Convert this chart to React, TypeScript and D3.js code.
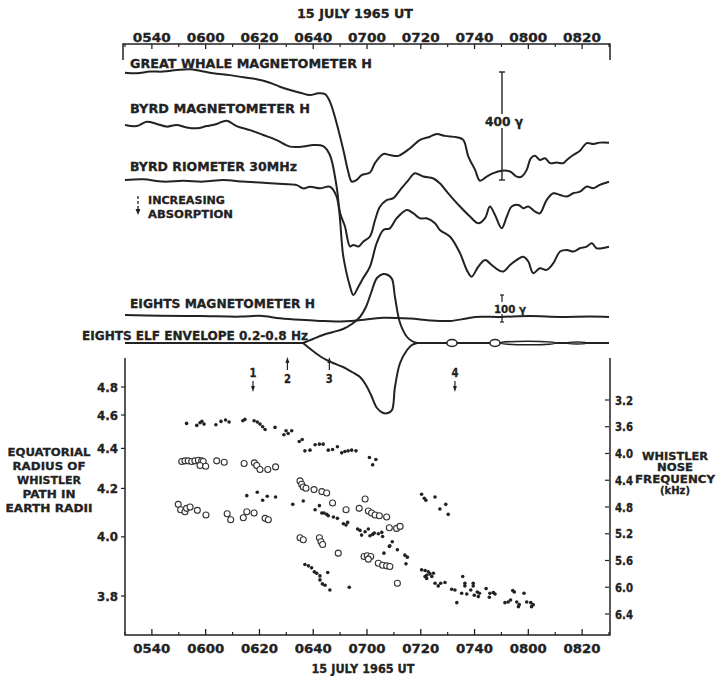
import React from 'react';
import * as d3 from 'd3';

// times are minutes after 0500 UT, 15 July 1965
const majorTimes = [40, 60, 80, 100, 120, 140, 160, 180, 200];
const minorTimes = [30, 50, 70, 90, 110, 130, 150, 170, 190, 210];

// trace deflections in gamma (down = negative)
const greatWhaleH: [number, number][] = [
  [30, 0], [34.4, -2], [39.3, 4], [44.2, 4], [49.2, 10], [54.2, 13], [57.9, 7], [62.8, -2], [69, -9],
  [74, -17], [79, -24], [83.9, -37], [87.6, -52], [91.4, -64], [95.1, -74], [98.8, -83], [101.9, -76],
  [104.4, -79], [106.2, -107], [108.7, -187], [111.2, -286], [113, -366], [114.3, -403], [116.2, -397],
  [118, -379], [121.1, -370], [123, -334], [126.1, -301], [128.5, -305], [131.6, -308], [136, -280],
  [139.7, -249], [143.4, -237], [145.9, -227], [149, -234], [153.4, -239], [155.8, -249], [157.7, -311],
  [160.2, -360], [162, -400], [164.5, -385], [167, -372], [170.1, -363], [173.2, -366], [175.7, -385],
  [177.5, -385], [179.4, -360], [180.9, -317], [182.5, -308], [184.3, -323], [186.2, -317], [188.1, -335],
  [190.5, -333], [193, -335], [194.3, -323], [196.7, -305], [199.2, -289], [201.7, -261], [204.2, -264],
  [206.6, -259], [210, -259],
];

const byrdH: [number, number][] = [
  [30, 0], [34.4, -4], [38.1, 12], [41.8, 4], [45.5, -6], [49.2, 0], [52.9, -9], [56.7, -12], [60.4, -4],
  [64.1, 4], [67.8, 16], [71.5, -4], [76.5, -19], [81.4, -37], [86.4, -56], [91.4, -80], [96.3, -80],
  [100, -74], [103.7, -78], [106.2, -111], [108.7, -228], [110, -326], [111.8, -376], [113.7, -450],
  [114.9, -444], [116.8, -450], [118.6, -432], [121.1, -413], [123, -352], [124.8, -303], [127.3, -278],
  [129.8, -271], [132.3, -241], [135.4, -204], [137.8, -179], [140.9, -191], [144.7, -198], [147.1, -216],
  [150.2, -253], [154.6, -302], [158.3, -339], [161.4, -364], [163.9, -345], [165.7, -302], [167.6, -333],
  [170.1, -382], [172, -339], [173.8, -302], [176.3, -296], [178.1, -308], [180, -302], [182.5, -321],
  [184.3, -327], [186.8, -278], [189.3, -253], [191.8, -259], [194.3, -265], [196.7, -253], [199.2, -247],
  [201.7, -228], [204.2, -234], [206.6, -222], [210, -210],
];

const byrdRiometer: [number, number][] = [
  [30, 0], [36.8, 3], [44.2, -6], [51.7, -3], [59.1, -6], [66.6, 0], [74, -6], [81.4, -10], [88.9, -15],
  [93.9, -19], [96.3, -31], [98.8, -25], [102.5, -31], [106.2, -25], [108.7, -62], [111.2, -284],
  [113.7, -395], [114.9, -426], [116.8, -395], [118.6, -363], [121.1, -321], [123.6, -234], [126.1, -185],
  [128.5, -179], [131, -142], [134.8, -111], [137.2, -123], [139.7, -142], [142.2, -142], [145.3, -160],
  [147.1, -185], [150.9, -210], [154.6, -271], [157.1, -333], [158.9, -358], [161.4, -321], [163.9, -296],
  [166.4, -315], [168.8, -333], [170.7, -339], [173.2, -315], [175.7, -296], [178.1, -284], [180, -302],
  [181.8, -345], [184.3, -327], [186.8, -333], [189.3, -308], [191.8, -265], [194.3, -259], [196.7, -265],
  [199.2, -253], [201.7, -247], [203.6, -234], [205.4, -253], [207.3, -253], [210, -247],
];

const eightsH: [number, number][] = [
  [30, 0], [43, -3], [57.9, -4], [72.8, -6], [80.2, -3], [87.6, -12], [95.1, -18], [102.5, -22],
  [108.8, -24], [116.3, -20], [125.9, -10], [136, -13], [143.4, -20], [150.9, -22], [156.4, -14],
  [160.2, -7], [169.5, -7], [180.6, -4], [191.8, -7], [202.9, -6], [210, -7],
];

// ELF envelope amplitude (relative units)
const elfTimes = [96.2, 99.9, 103.6, 107.4, 111.1, 114.4, 117.4, 119.6, 121.5, 123.7, 126, 127.8, 129.3, 130.4, 132.3, 134.9, 136.7, 138.6];
const elfUpper = [0, 4, 8, 11, 14, 19, 26, 36, 50, 65, 69, 68, 64, 46, 20, 6, 2, 0];
const elfLower = [0, 8, 15, 20, 24, 29, 34, 42, 52, 65, 70, 70, 67, 44, 20, 7, 2, 0];
const elfBursts = [
  { t0: 149.7, t1: 153.5, amp: 3.5 },
  { t0: 165.7, t1: 169.5, amp: 3.5 },
  { t0: 169.5, t1: 190.3, amp: 1.8 },
  { t0: 194.4, t1: 201.8, amp: 0.9 },
];

const markers = [
  { label: '1', t: 77.6, dir: 'down' },
  { label: '2', t: 90.4, dir: 'up' },
  { label: '3', t: 106, dir: 'up' },
  { label: '4', t: 152.7, dir: 'down' },
];

const radiusTicks = [4.8, 4.6, 4.4, 4.2, 4.0, 3.8];
const freqTicks = [3.2, 3.6, 4.0, 4.4, 4.8, 5.2, 5.6, 6.0, 6.4];

// whistler nose frequencies [minutes after 0500, kHz]
const dotPoints: [number, number][] = [
  [52.9, 3.55], [56.7, 3.58], [57.9, 3.54], [58.6, 3.52], [59.4, 3.56], [63.8, 3.57], [65.7, 3.52], [67.4, 3.5],
  [68.7, 3.53], [73.8, 3.51], [74.6, 3.49], [78, 3.51], [79.2, 3.53], [80.2, 3.56], [81.2, 3.6], [82.1, 3.64],
  [85.8, 3.61], [89.1, 3.72], [90.7, 3.7], [92, 3.66], [89.9, 3.66], [94.8, 3.82], [95.9, 3.79], [96.9, 3.96],
  [98.8, 3.95], [100.7, 3.87], [102.3, 3.86], [103.7, 3.86], [105.6, 3.95], [107.2, 3.94], [109, 3.9],
  [110.6, 3.99], [111.8, 3.97], [113, 3.96], [114.3, 3.95], [115.9, 3.96], [120.9, 4.06], [123.3, 4.09], [122.1, 4.17],
  [75.3, 4.63], [79.2, 4.58], [81.2, 4.7], [82.9, 4.64], [86, 4.65], [92.4, 4.76], [96.3, 4.71],
  [100.7, 4.84], [102.3, 4.78], [103.2, 4.89], [104, 4.89], [105, 4.91], [105.6, 4.93], [107.5, 4.95], [109, 4.97],
  [111.2, 5.05], [112.2, 5.07], [112.8, 5.03], [116.5, 5.13], [117.4, 5.15], [118, 5.22], [119.3, 5.17],
  [120.5, 5.13], [121.1, 5.23], [122.1, 5.21], [122.7, 5.19], [124.2, 5.2], [125.5, 5.18], [125.8, 5.24],
  [128.5, 5.38], [129.4, 5.32], [131.3, 5.44], [126.3, 5.49], [128.3, 5.39], [134.5, 5.65], [134.1, 5.52], [135, 5.55],
  [140.3, 4.61], [141.3, 4.67], [141.9, 4.7], [145.3, 4.65], [147.1, 4.83], [149.3, 4.76], [150.2, 4.91],
  [96.9, 5.66], [98.2, 5.68], [99.4, 5.71], [100.4, 5.77], [101.3, 5.79], [102.5, 5.83], [105.4, 5.78],
  [102.5, 5.89], [103.4, 5.95], [104.4, 5.97], [106.2, 6.04], [113.4, 6.0],
  [140.3, 5.74], [141.6, 5.75], [142.8, 5.77], [143.4, 5.8], [142.2, 5.82], [141.6, 5.84], [142.2, 5.87],
  [144.1, 5.84], [144.7, 5.79], [145.3, 5.94], [146.5, 5.98], [147.4, 5.94], [149, 5.93], [151.5, 6.03],
  [152.7, 6.04], [153.4, 6.23], [155.2, 6.09], [155.6, 5.84], [156.4, 5.94], [156.4, 5.98], [157.1, 6.1],
  [158.6, 6.04], [159.5, 5.94], [159.5, 5.98], [159.9, 6.12], [161, 6.07], [161.4, 6.14], [161.8, 6.09],
  [164.3, 6.02], [165.7, 6.09], [167, 6.08], [167.6, 6.1], [165.5, 6.15], [171.3, 6.23], [172.5, 6.22],
  [173.4, 6.19], [174.2, 6.05], [174.8, 6.07], [175.7, 6.22], [176.6, 6.26], [176.3, 6.29], [178.4, 6.09],
  [179.4, 6.22], [180.9, 6.23], [181.8, 6.26], [181.2, 6.29],
];

const circlePoints: [number, number][] = [
  [51.1, 4.12], [52.3, 4.11], [53.5, 4.11], [54.8, 4.12], [56, 4.11], [57.3, 4.1], [58.5, 4.11], [59.1, 4.12],
  [57.9, 4.18], [60, 4.19], [64.1, 4.11], [66.9, 4.13], [74.3, 4.15], [78.1, 4.14], [79, 4.18], [80.2, 4.24],
  [83.1, 4.24], [86, 4.2],
  [49.8, 4.76], [50.7, 4.84], [52.3, 4.87], [52.9, 4.82], [54.2, 4.8], [56.9, 4.85], [60.1, 4.92], [68, 4.9],
  [69.3, 4.99], [74, 4.96], [75.3, 4.87], [78, 4.89], [82.1, 4.97], [83.3, 4.99],
  [95.1, 4.41], [95.7, 4.46], [96.3, 4.5], [97.3, 4.52], [100.3, 4.54], [103.2, 4.57], [105, 4.59], [107.2, 4.74],
  [112.2, 4.84], [117.1, 4.82], [119.3, 4.68], [120.5, 4.86], [121.7, 4.89], [123, 4.92], [124.6, 4.93],
  [127.3, 4.95], [128.3, 5.11], [131, 5.12], [132.3, 5.09],
  [95.1, 5.26], [96.3, 5.29], [102.3, 5.26], [102.9, 5.32], [103.5, 5.36], [109.3, 5.49], [118.9, 5.54],
  [120.1, 5.53], [121.4, 5.54], [120.5, 5.58], [124.2, 5.64], [125.8, 5.67], [127.3, 5.68], [128.5, 5.69], [131.3, 5.94],
];

const INK = '#222';
const FONT = "'DejaVu Sans', 'Liberation Sans', sans-serif";

const fmtTime = (t: number) => {
  const m = 300 + t;
  return String(Math.floor(m / 60)).padStart(2, '0') + String(m % 60).padStart(2, '0');
};

const Label = ({ x, y, w, size = 12, anchor = 'start', children }: any) => (
  <text x={x} y={y} fontSize={size} fontWeight="bold" fontFamily={FONT} fill={INK}
    stroke={INK} strokeWidth={0.3}
    textAnchor={anchor} textLength={w} lengthAdjust="spacingAndGlyphs">{children}</text>
);

const App: React.FC = () => {
  const width = 717;
  const height = 676;

  const x = d3.scaleLinear().domain([30, 210]).range([125, 609]);
  const gamma = d3.scaleLinear().domain([0, 400]).range([0, 108]);
  const env = d3.scaleLinear().domain([0, 70]).range([0, 70]);
  const yFreq = d3.scaleLinear().domain([3.2, 6.4]).range([400, 614]);
  const yRad = d3.scalePow().exponent(-3).domain([3.8, 4.8]).range([596, 387]);

  const traceLine = (y0: number) =>
    d3.line<[number, number]>()
      .x(d => x(d[0]))
      .y(d => y0 - gamma(d[1]))
      .curve(d3.curveCatmullRom.alpha(0.5));

  const traces = [
    { data: greatWhaleH, y0: 72.7 },
    { data: byrdH, y0: 125 },
    { data: byrdRiometer, y0: 180 },
    { data: eightsH, y0: 315 },
  ];

  const elfBase = 343;
  const envLine = (amps: number[], sign: number) =>
    d3.line<number>()
      .x((_, i) => x(elfTimes[i]))
      .y(a => elfBase + sign * env(a))
      .curve(d3.curveCatmullRom.alpha(0.5))(amps) || '';

  const axisTop = 44;
  const axisBottom = 635;
  const plotTop = 358;
  const barX = x(170.2);

  return (
    <svg width={width} height={height} style={{ position: 'absolute', left: 0, top: 0, background: '#fff' }}>
      {/* top time axis */}
      <Label x={355} y={18} w={116} anchor="middle">15 JULY 1965 UT</Label>
      <path d={`M${x(30) - 2},${axisTop + 16}V${axisTop}H${x(210) + 1}V${axisTop + 16}`} fill="none" stroke={INK} strokeWidth={1.5} />
      {majorTimes.map(t => (
        <g key={'tt' + t}>
          <line x1={x(t)} x2={x(t)} y1={axisTop} y2={axisTop + 5} stroke={INK} strokeWidth={1.3} />
          <Label x={x(t)} y={42} w={38} anchor="middle">{fmtTime(t)}</Label>
        </g>
      ))}
      {minorTimes.map(t => (
        <line key={'tm' + t} x1={x(t)} x2={x(t)} y1={axisTop} y2={axisTop + 3} stroke={INK} strokeWidth={1.2} />
      ))}

      {/* station traces */}
      {traces.map((tr, i) => (
        <path key={'tr' + i} d={traceLine(tr.y0)(tr.data) || ''} fill="none" stroke={INK} strokeWidth={2} strokeLinejoin="round" />
      ))}
      <Label x={130} y={67.5} w={242}>GREAT WHALE MAGNETOMETER H</Label>
      <Label x={130} y={112.5} w={180}>BYRD MAGNETOMETER H</Label>
      <Label x={130} y={170.5} w={167}>BYRD RIOMETER 30MHz</Label>
      <line x1={138} x2={138} y1={196} y2={210} stroke={INK} strokeWidth={1.3} strokeDasharray="3,2" />
      <path d="M135.5,209L138,215L140.5,209Z" fill={INK} />
      <Label x={148} y={204} w={77} size={11}>INCREASING</Label>
      <Label x={148} y={217.5} w={85} size={11}>ABSORPTION</Label>

      {/* 400 gamma scale bar */}
      <line x1={barX} x2={barX} y1={72} y2={72 + gamma(400)} stroke={INK} strokeWidth={1.4} />
      <line x1={barX - 3} x2={barX + 3} y1={72} y2={72} stroke={INK} strokeWidth={1.4} />
      <line x1={barX - 3} x2={barX + 3} y1={72 + gamma(400)} y2={72 + gamma(400)} stroke={INK} strokeWidth={1.4} />
      <rect x={barX - 18} y={114} width={40} height={14} fill="#fff" />
      <Label x={barX + 2} y={126} w={38} anchor="middle">400 γ</Label>

      <Label x={130} y={307.5} w={185}>EIGHTS MAGNETOMETER H</Label>
      {/* 100 gamma scale bar */}
      <line x1={barX} x2={barX} y1={295} y2={295 + gamma(100)} stroke={INK} strokeWidth={1.2} />
      <line x1={barX - 2} x2={barX + 2} y1={295} y2={295} stroke={INK} strokeWidth={1.2} />
      <line x1={barX - 2} x2={barX + 2} y1={295 + gamma(100)} y2={295 + gamma(100)} stroke={INK} strokeWidth={1.2} />
      <rect x={barX - 8} y={302} width={34} height={12} fill="#fff" />
      <Label x={barX + 8} y={313} w={32} size={11} anchor="middle">100 γ</Label>

      {/* ELF envelope */}
      <line x1={x(30)} x2={x(elfTimes[0])} y1={elfBase} y2={elfBase} stroke={INK} strokeWidth={2} />
      <line x1={x(elfTimes[elfTimes.length - 1])} x2={x(210)} y1={elfBase} y2={elfBase} stroke={INK} strokeWidth={2} />
      <path d={envLine(elfUpper, -1)} fill="none" stroke={INK} strokeWidth={2} />
      <path d={envLine(elfLower, 1)} fill="none" stroke={INK} strokeWidth={2} />
      {elfBursts.map((b, i) => (
        <ellipse key={'eb' + i} cx={(x(b.t0) + x(b.t1)) / 2} cy={elfBase} rx={(x(b.t1) - x(b.t0)) / 2} ry={env(b.amp)}
          fill="#fff" stroke={INK} strokeWidth={1.5} />
      ))}
      <Label x={82} y={339.5} w={226}>EIGHTS ELF ENVELOPE 0.2-0.8 Hz</Label>

      {/* event markers */}
      {markers.map(m => {
        const mx = x(m.t);
        return m.dir === 'up' ? (
          <g key={'mk' + m.label}>
            <line x1={mx} x2={mx} y1={361} y2={370} stroke={INK} strokeWidth={1.2} />
            <path d={`M${mx - 2},${363}L${mx},${357}L${mx + 2},${363}Z`} fill={INK} />
            <Label x={mx} y={382.5} w={7} size={12} anchor="middle">{m.label}</Label>
          </g>
        ) : (
          <g key={'mk' + m.label}>
            <Label x={mx} y={377} w={7} size={12} anchor="middle">{m.label}</Label>
            <line x1={mx} x2={mx} y1={381} y2={389} stroke={INK} strokeWidth={1.2} />
            <path d={`M${mx - 2},${386}L${mx},${392}L${mx + 2},${386}Z`} fill={INK} />
          </g>
        );
      })}

      {/* whistler panel axes */}
      <path d={`M${x(30)},${plotTop}V${axisBottom}H${x(210) + 1}V${plotTop}`} fill="none" stroke={INK} strokeWidth={1.5} />
      {radiusTicks.map(r => (
        <g key={'r' + r}>
          <line x1={x(30) - 4} x2={x(30)} y1={yRad(r)} y2={yRad(r)} stroke={INK} strokeWidth={1.2} />
          <Label x={118} y={yRad(r) + 4.5} w={21} anchor="end">{r.toFixed(1)}</Label>
        </g>
      ))}
      {freqTicks.map(f => (
        <g key={'f' + f}>
          <line x1={x(210) - 4} x2={x(210)} y1={yFreq(f)} y2={yFreq(f)} stroke={INK} strokeWidth={1.2} />
          <Label x={615} y={yFreq(f) + 4.5} w={18}>{f.toFixed(1)}</Label>
        </g>
      ))}
      {majorTimes.map(t => (
        <g key={'bt' + t}>
          <line x1={x(t)} x2={x(t)} y1={axisBottom} y2={axisBottom - 6} stroke={INK} strokeWidth={1.3} />
          <Label x={x(t)} y={653} w={37} anchor="middle">{fmtTime(t)}</Label>
        </g>
      ))}
      {minorTimes.map(t => (
        <line key={'bm' + t} x1={x(t)} x2={x(t)} y1={axisBottom} y2={axisBottom - 3} stroke={INK} strokeWidth={1.2} />
      ))}
      <Label x={363} y={672.5} w={103} anchor="middle">15 JULY 1965 UT</Label>

      {/* axis titles */}
      {['EQUATORIAL', 'RADIUS  OF', 'WHISTLER', 'PATH  IN', 'EARTH RADII'].map((s, i) => (
        <Label key={'lt' + i} x={49} y={455.5 + i * 14.2} w={[83, 73, 64, 53, 87][i]} size={11} anchor="middle">{s}</Label>
      ))}
      {['WHISTLER', 'NOSE', 'FREQUENCY', '(kHz)'].map((s, i) => (
        <Label key={'rt' + i} x={675} y={460 + i * 11.3} w={[66, 36, 80, 30][i]} size={10.5} anchor="middle">{s}</Label>
      ))}

      {/* whistler data */}
      {circlePoints.map((d, i) => (
        <circle key={'c' + i} cx={x(d[0])} cy={yFreq(d[1])} r={3} fill="#fff" stroke="#333" strokeWidth={1.1} />
      ))}
      {dotPoints.map((d, i) => (
        <circle key={'d' + i} cx={x(d[0])} cy={yFreq(d[1])} r={1.8} fill={INK} />
      ))}
    </svg>
  );
};

export default App;
